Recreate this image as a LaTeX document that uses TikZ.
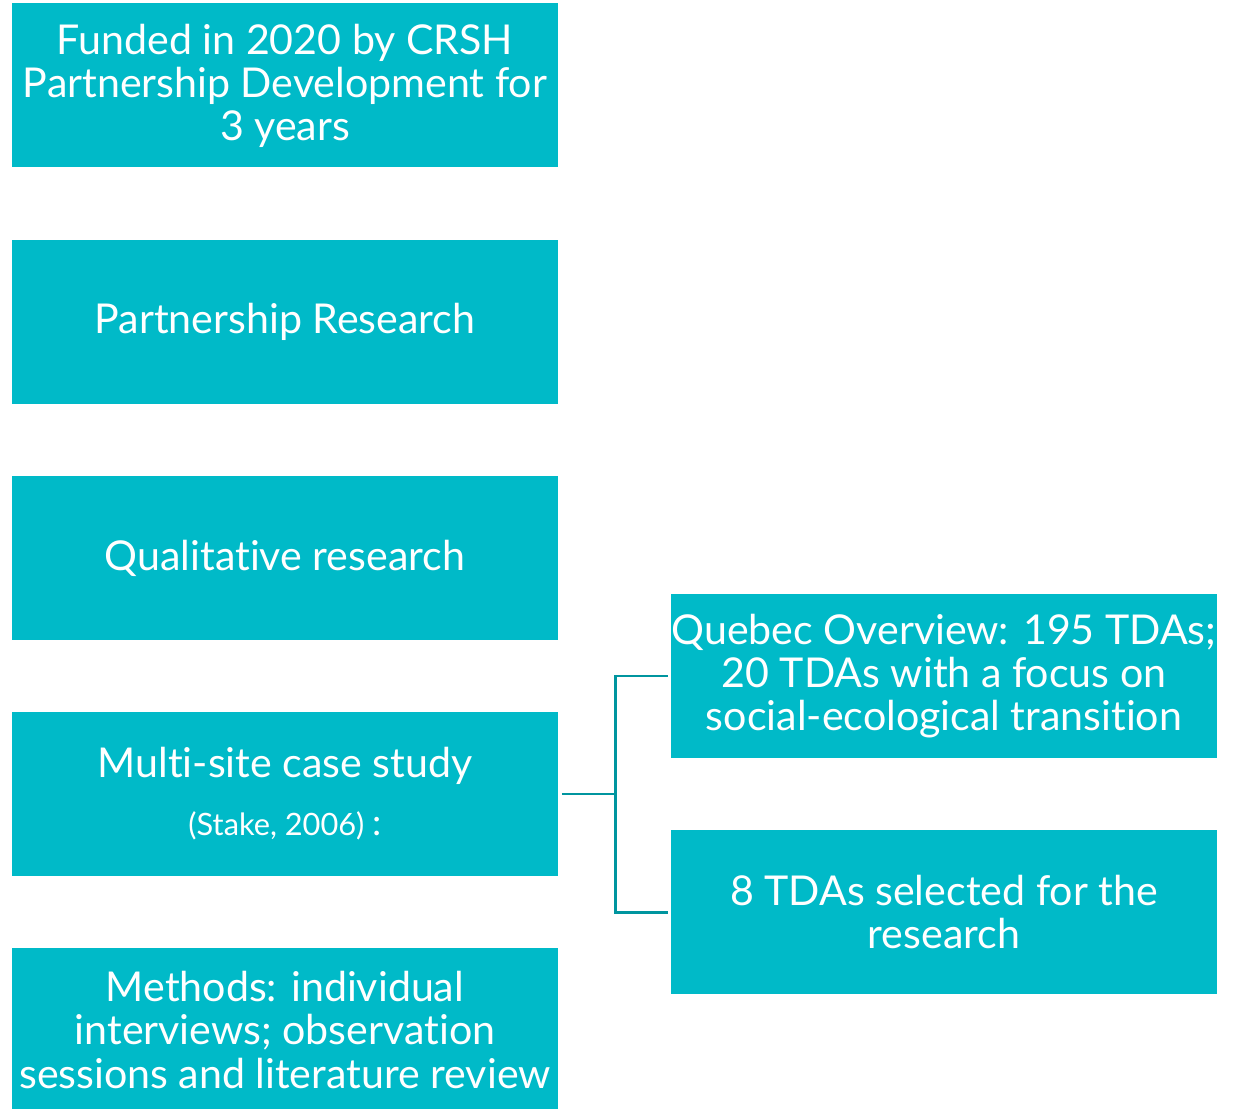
\documentclass[tikz,border=0pt]{standalone}
\usepackage{fontspec}
\setmainfont{Lato}[Ligatures={NoCommon}]
\definecolor{boxteal}{RGB}{0,186,200}
\definecolor{lineteal}{RGB}{0,149,159}
\begin{document}
\begin{tikzpicture}[every node/.style={rectangle, fill=boxteal, text=white, minimum width=10.92cm, minimum height=3.28cm, inner sep=0pt, align=center, font=\fontsize{23.4}{24.5}\selectfont}]
    \path[use as bounding box] (0,0) rectangle (24.8,-22.18);
    \node (fund) at (5.70,-1.71)  {Funded in 2020 by CRSH\\Partnership Development for\\3 years};
    \node (part) at (5.70,-6.44)  {Partnership Research};
    \node (qual) at (5.70,-11.16) {Qualitative research};
    \node (case) at (5.70,-15.88) {Multi-site case study\\[0.3cm]{\fontsize{17.5}{20}\selectfont (Stake, 2006) {\fontsize{21}{20}\selectfont:}}};
    \node (meth) at (5.70,-20.60) {Methods: individual\\interviews; observation\\sessions and literature review};
    \node (queb) at (18.88,-13.52) {Quebec Overview: 195 TDAs;\\20 TDAs with a focus on\\social-ecological transition};
    \node (sel)  at (18.88,-18.24) {8 TDAs selected for the\\research};

    % Bracket from the case study to its two parts
    \coordinate (fork) at (12.30,-15.88);
    \draw[lineteal, line width=1.7pt, shorten <=0.07cm] (case.east) -- (fork);
    \draw[lineteal, line width=1.7pt, shorten >=0.06cm] (fork) |- (queb.west);
    \draw[lineteal, line width=1.7pt, shorten >=0.06cm] (fork) |- (sel.west);

    \end{tikzpicture}
\end{document}
